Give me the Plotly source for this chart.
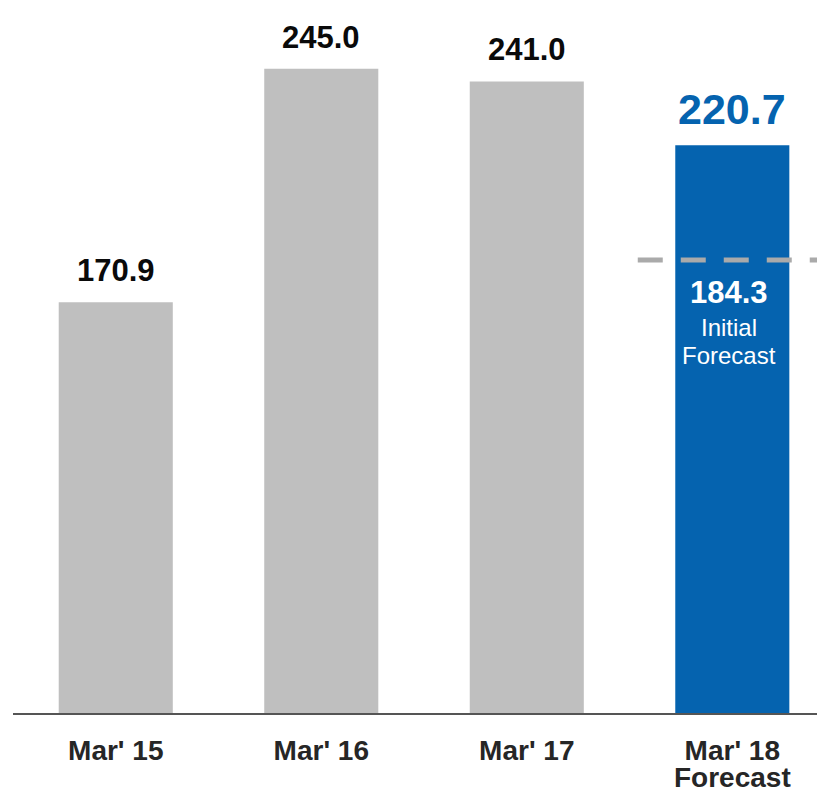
import plotly.graph_objects as go

periods = ["Mar' 15", "Mar' 16", "Mar' 17", "Mar' 18"]
period_notes = ["", "", "", "Forecast"]
values = [170.9, 245.0, 241.0, 220.7]
bar_colors = ["#BFBFBF", "#BFBFBF", "#BFBFBF", "#0563AF"]
initial_forecast = 184.3

x_pos = list(range(len(periods)))
FONT = "Liberation Sans, Arial"

fig = go.Figure()
fig.add_trace(go.Bar(x=x_pos, y=values, width=0.555, marker_color=bar_colors,
                     marker_line_width=0, hoverinfo="skip"))

# value labels above bars
for i, v in enumerate(values):
    last = i == len(values) - 1
    fig.add_annotation(x=i, y=v, text=f"<b>{v:.1f}</b>", showarrow=False,
                       yanchor="bottom", yshift=10 if last else 12,
                       font=dict(family=FONT, size=43 if last else 31,
                                 color="#0563AF" if last else "#0A0A0A"))

# second line of the category labels
for i, note in enumerate(period_notes):
    if note:
        fig.add_annotation(x=i, xref="x", y=0, yref="paper", text=f"<b>{note}</b>",
                           showarrow=False, yanchor="top", yshift=-47,
                           font=dict(family=FONT, size=28, color="#262626"))

# initial forecast dashed line + label
fig.add_shape(type="line", xref="x", yref="y", x0=2.54, x1=3.5,
              y0=initial_forecast, y1=initial_forecast,
              line=dict(color="#AAAAAA", width=5, dash="25px,18px"))
fig.add_annotation(x=3, y=initial_forecast, text=f"<b>{initial_forecast:.1f}</b>",
                   showarrow=False, yanchor="top", yshift=-13, xshift=-3,
                   font=dict(family=FONT, size=31, color="white"))
for j, word in enumerate(["Initial", "Forecast"]):
    fig.add_annotation(x=3, y=initial_forecast, text=word,
                       showarrow=False, yanchor="top", yshift=-52 - 28 * j, xshift=-3,
                       font=dict(family=FONT, size=24, color="white"))

fig.update_layout(
    width=825, height=790,
    margin=dict(l=5, r=0, t=0, b=85),
    plot_bgcolor="white", paper_bgcolor="white",
    showlegend=False,
)
fig.update_xaxes(range=[-0.5, 3.49], tickvals=x_pos, ticktext=periods,
                 tickfont=dict(family=FONT, size=28, color="#262626", weight="bold"),
                 ticklabelstandoff=11,
                 showline=True, linecolor="#555555", linewidth=2, ticks="",
                 showgrid=False, zeroline=False, fixedrange=True)
fig.update_yaxes(range=[40.5, 264.3], visible=False, showgrid=False, zeroline=False, fixedrange=True)

fig.write_html("out.html", config={"displayModeBar": False})
